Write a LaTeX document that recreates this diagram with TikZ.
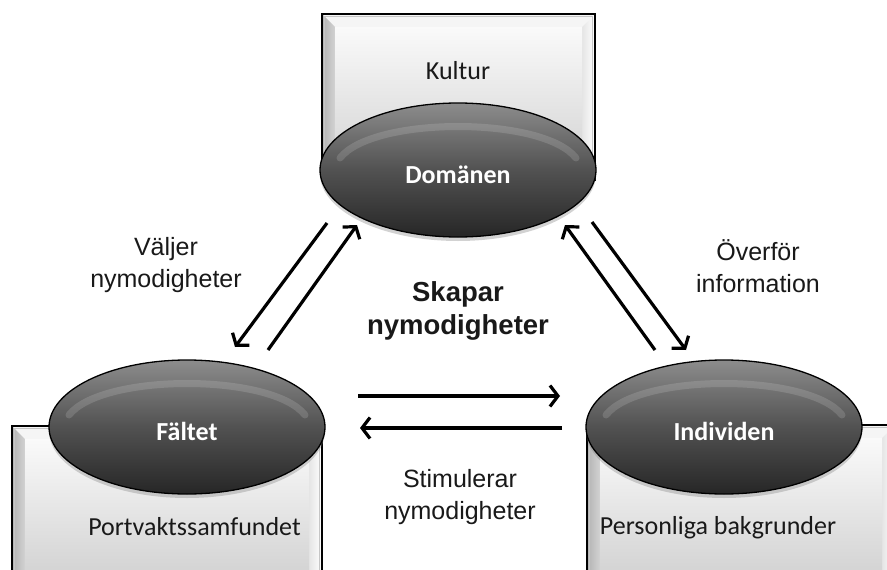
\documentclass[tikz,border=0pt]{standalone}
\usepackage{fontspec}
\setmainfont{Liberation Sans}
\newfontfamily\carl{Carlito}
\usetikzlibrary{shapes.geometric,arrows.meta,calc,shadows}
\newcommand\bevelbox[1]{%
  \fill[gray!8] (#1.north west) -- (#1.north east) -- ($(#1.north east)+(-13,13)$) -- ($(#1.north west)+(13,13)$) -- cycle;
  \shade[left color=gray!60, right color=gray!35] (#1.north west) -- ($(#1.north west)+(13,13)$) -- ($(#1.south west)+(13,-13)$) -- (#1.south west) -- cycle;
  \shade[left color=gray!20, right color=white] (#1.north east) -- ($(#1.north east)+(-13,13)$) -- ($(#1.south east)+(-13,-13)$) -- (#1.south east) -- cycle;
  \shade[top color=gray!35, bottom color=gray!55] (#1.south west) -- ($(#1.south west)+(13,-13)$) -- ($(#1.south east)+(-13,-13)$) -- (#1.south east) -- cycle;
  \shade[top color=gray!4, bottom color=gray!34] ($(#1.north west)+(13,13)$) rectangle ($(#1.south east)+(-13,-13)$);
  \draw[gray!45, line width=0.8pt] ($(#1.north west)+(2.5,2.5)$) rectangle ($(#1.south east)+(-2.5,-2.5)$);
  \draw[black, line width=1.6pt] (#1.north west) rectangle (#1.south east);
}
\newcommand\ovalshine[1]{%
  \draw[white, opacity=0.14, line width=7pt, line cap=round]
    ($(#1.center)+(-118,-12)$) .. controls ($(#1.center)+(-85,-54)$) and ($(#1.center)+(85,-54)$) .. ($(#1.center)+(118,-12)$);
}
\begin{document}
\begin{tikzpicture}[x=1pt,y=-1pt,
  boxnode/.style={rectangle, inner sep=0pt, outer sep=0pt},
  oval/.style={ellipse, inner sep=0pt, minimum width=276pt, minimum height=134pt,
    draw=black, line width=1.3pt, top color=black!45, bottom color=black!85, middle color=black!68,
    drop shadow={opacity=0.35, shadow xshift=0pt, shadow yshift=-4pt},
    font=\carl\bfseries\fontsize{26}{30}\selectfont, text=white, text height=26pt, text depth=0pt},
  boxtxt/.style={inner sep=0pt, font=\carl\fontsize{26}{30}\selectfont, text=black!90},
  lbl/.style={inner sep=0pt, align=center, font=\fontsize{25}{32}\selectfont, text=black!90},
  conn/.style={line width=3.2pt, -{Straight Barb[length=8pt, width=21pt]}}
]
\clip (0,0) rectangle (887,570);
\fill[white] (0,0) rectangle (887,570);

% boxes
\node[boxnode, minimum width=273pt, minimum height=166pt] (kb) at (458.5,97) {};
\bevelbox{kb}
\node[boxnode, minimum width=310pt, minimum height=159pt] (fb) at (167,505.5) {};
\bevelbox{fb}
\node[boxnode, minimum width=308pt, minimum height=160pt] (ib) at (741,505) {};
\bevelbox{ib}

\node[boxtxt] (kt) at (458,71) {Kultur};
\node[boxtxt] (pt) at (194.5,527) {Portvaktssamfundet};
\node[boxtxt] (pb) at (718,528) {Personliga bakgrunder};

% ellipses
\node[oval] (dom) at (458,170) {Domänen};
\ovalshine{dom}
\node[oval] (fal) at (187,427) {Fältet};
\ovalshine{fal}
\node[oval] (ind) at (724,427) {Individen};
\ovalshine{ind}

% labels
\node[lbl] (vn) at (166,265) {Väljer\\nymodigheter};
\node[lbl] (oi) at (758,266) {Överför\\information};
\node[lbl, font=\bfseries\fontsize{27.5}{33}\selectfont] (sn) at (458,311) {Skapar\\nymodigheter};
\node[lbl] (st) at (460,497) {Stimulerar\\nymodigheter};

% arrow end points
\coordinate (a1s) at (327,223);
\coordinate (a1e) at (235,347);
\coordinate (a2s) at (268,350);
\coordinate (a2e) at (357,225);
\coordinate (a3s) at (655,350);
\coordinate (a3e) at (565,225);
\coordinate (a4s) at (592,222);
\coordinate (a4e) at (686,350);
\coordinate (a5s) at (358,396);
\coordinate (a5e) at (560,396);
\coordinate (a6s) at (562,428);
\coordinate (a6e) at (360,428);

\draw[conn] (a1s) -- (a1e);
\draw[conn] (a2s) -- (a2e);
\draw[conn] (a3s) -- (a3e);
\draw[conn] (a4s) -- (a4e);
\draw[conn] (a5s) -- (a5e);
\draw[conn] (a6s) -- (a6e);
\end{tikzpicture}
\end{document}
